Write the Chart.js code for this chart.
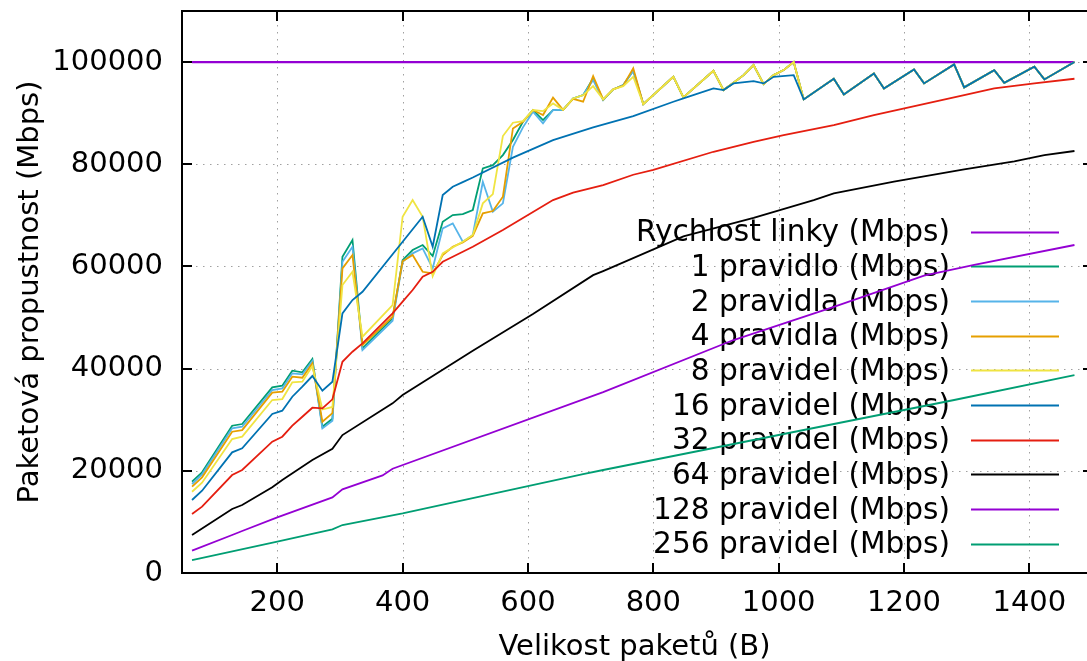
<!DOCTYPE html>
<html>
<head>
<meta charset="utf-8">
<script src="https://cdn.jsdelivr.net/npm/chart.js@4"></script>
<style>
  body { margin: 0; background: #fff; }
  canvas { display: block; }
</style>
</head>
<body>
<canvas id="chart" width="1087" height="661"></canvas>
<script>
// packet sizes (B) where the measured lines bend
let sizesZig = [64, 80, 128, 144, 192, 208, 224, 240, 256, 272, 288, 304, 320, 336, 384, 400, 416, 432, 448, 464,
  480, 496, 512, 528, 544, 560, 576, 592, 608, 624, 640, 656, 672, 688, 704, 720, 736, 752, 768, 784,
  832, 848, 896, 912, 928, 944, 960, 976, 992, 1008, 1024, 1040, 1088, 1104, 1152, 1168, 1216, 1232, 1280, 1296,
  1344, 1360, 1408, 1424, 1472];

let rule1 = [17870, 19700, 28830, 29160, 36330, 36660, 39600, 39270, 41880, 28630, 30200, 61900, 65170, 43970, 49840, 61250, 63210, 64190, 62040, 68750,
  70060, 70250, 71040, 79190, 79840, 81800, 84740, 88320, 90610, 88650, 90600, 90670, 92890, 93540, 96800, 92600, 94650, 95500, 98300, 91780,
  97130, 93090, 98300, 94520, 95960, 97450, 99410, 95700, 97450, 98430, 100000, 92700, 96740, 93680, 97780, 94850, 98570, 95830, 99550, 95050,
  98430, 95960, 99090, 96610, 100000];
let rule2 = [17420, 19310, 28310, 28630, 35810, 36140, 39080, 38880, 41490, 28310, 29800, 60920, 63860, 43640, 49380, 60920, 62560, 63540, 59620, 67450,
  68430, 64840, 66150, 76580, 70710, 72350, 83430, 87220, 90280, 88000, 90610, 90670, 92890, 93540, 96500, 92600, 94650, 95500, 98300, 91780,
  97130, 93090, 98300, 94520, 95960, 97450, 99410, 95700, 97450, 98430, 100000, 92700, 96740, 93680, 97780, 94850, 98570, 95830, 99550, 95050,
  98430, 95960, 99090, 96610, 100000];
let rule4 = [16890, 18730, 27650, 27980, 35290, 35480, 38420, 38230, 41030, 29610, 31300, 59620, 62230, 44620, 50160, 61000, 62230, 58960, 58640, 62230,
  63860, 64700, 66000, 70390, 70840, 73650, 87020, 88320, 90610, 89630, 93050, 90670, 92800, 92240, 97260, 92700, 94660, 95400, 98770, 91780,
  97130, 93090, 98300, 94520, 95960, 97450, 99410, 95700, 97450, 98430, 100000, 92700, 96740, 93680, 97780, 94850, 98570, 95830, 99550, 95050,
  98430, 95960, 99090, 96610, 100000];
let rule8 = [15910, 17680, 26220, 26680, 33860, 34050, 37310, 37440, 40510, 32000, 32500, 56360, 58960, 46250, 52450, 69730, 72990, 69730, 58120, 62560,
  63730, 64840, 66150, 72350, 74170, 85520, 88130, 88450, 90610, 90400, 91910, 90670, 92890, 93540, 95300, 92700, 94660, 95300, 97130, 91780,
  97130, 93090, 98300, 94520, 95960, 97450, 99410, 95700, 97450, 98430, 100000, 92700, 96740, 93680, 97780, 94850, 98570, 95830, 99550, 95050,
  98430, 95960, 99090, 96610, 100000];

let sizes16 = [64, 80, 128, 144, 192, 208, 224, 240, 256, 272, 288, 304, 320, 336, 432, 448, 464, 480, 496, 512,
  576, 640, 704, 768, 832, 848, 896, 912, 928, 960, 976, 992, 1024, 1040, 1088, 1104, 1152, 1168, 1216, 1232,
  1280, 1296, 1344, 1360, 1408, 1424, 1472];
let rule16 = [14290, 16110, 23620, 24400, 31120, 31770, 34500, 36460, 38550, 35680, 37440, 50810, 53425, 55050, 69730, 63860, 73970, 75600, 76500, 77400,
  81300, 84740, 87220, 89430, 92240, 92890, 94850, 94520, 95830, 96280, 95830, 97130, 97450, 92700, 96740, 93680, 97780, 94850, 98570, 95830,
  99550, 95050, 98430, 95960, 99090, 96610, 100000];

let sizes32 = [64, 80, 128, 144, 192, 208, 224, 240, 256, 272, 288, 304, 320, 336, 384, 400, 416, 432, 448, 464,
  480, 496, 512, 560, 640, 672, 720, 768, 800, 896, 960, 1008, 1088, 1152, 1296, 1344, 1408, 1472];
let rule32 = [11550, 12980, 19180, 20160, 25700, 26680, 28830, 30590, 32350, 32220, 33990, 41350, 43310, 44950, 50820, 53100, 55380, 57990, 58960, 60920,
  61900, 62880, 63860, 67120, 72990, 74430, 75930, 77950, 78900, 82450, 84400, 85710, 87670, 89630, 93540, 94850, 95830, 96740];

let sizes64 = [64, 128, 144, 192, 208, 256, 288, 304, 384, 400, 512, 608, 704, 720, 848, 960, 1056, 1088, 1184, 1296, 1376, 1424, 1472];
let rule64 = [7440, 12520, 13310, 16770, 18200, 22110, 24300, 27000, 33210, 34830, 43500, 50700, 58300, 59100, 65900, 69500, 73000, 74300, 76600, 79000, 80570, 81800, 82600];

let sizes128 = [64, 128, 144, 200, 288, 304, 368, 384, 720, 928, 1088, 1232, 1312, 1472];
let rule128 = [4370, 7440, 8220, 10900, 14810, 16380, 19100, 20400, 35400, 45600, 52100, 58200, 60300, 64200];

let sizes256 = [64, 200, 288, 304, 400, 688, 720, 1280, 1472];
let rule256 = [2540, 6130, 8550, 9390, 11680, 19370, 20160, 33860, 38750];

let sizesLink = [64, 1472];
let linkRate = [100000, 100000];

let xTicks = [200, 400, 600, 800, 1000, 1200, 1400];
let yTicks = [0, 20000, 40000, 60000, 80000, 100000];

let labels = ["Rychlost linky (Mbps)", "1 pravidlo (Mbps)", "2 pravidla (Mbps)", "4 pravidla (Mbps)", "8 pravidel (Mbps)",
  "16 pravidel (Mbps)", "32 pravidel (Mbps)", "64 pravidel (Mbps)", "128 pravidel (Mbps)", "256 pravidel (Mbps)"];
let colors = ["#9400d3", "#009e73", "#56b4e9", "#e69f00", "#f0e442", "#0072b2", "#e51e10", "#000000", "#9400d3", "#009e73"];

function pts(xs, ys) {
  return xs.map((x, i) => ({x: x, y: ys[i]}));
}

let series = [
  pts(sizesLink, linkRate), pts(sizesZig, rule1), pts(sizesZig, rule2), pts(sizesZig, rule4), pts(sizesZig, rule8),
  pts(sizes16, rule16), pts(sizes32, rule32), pts(sizes64, rule64), pts(sizes128, rule128), pts(sizes256, rule256)
];

const FONT = "DejaVu Sans";
const FS = 29;

// gnuplot like frame: dotted grid, inward ticks, key on the right
let framePlugin = {
  id: 'frame',
  beforeDatasetsDraw: (chart) => {
    const ctx = chart.ctx;
    const a = chart.chartArea;
    const xs = chart.scales.x, ys = chart.scales.y;
    ctx.save();
    ctx.strokeStyle = '#a0a0a0';
    ctx.lineWidth = 1;
    ctx.setLineDash([1.5, 5.5]);
    xTicks.forEach(v => {
      let p = Math.round(xs.getPixelForValue(v)) + 0.5;
      ctx.beginPath(); ctx.moveTo(p, a.top); ctx.lineTo(p, a.bottom); ctx.stroke();
    });
    yTicks.forEach(v => {
      if (v === 0) return;
      let p = Math.round(ys.getPixelForValue(v)) + 0.5;
      ctx.beginPath(); ctx.moveTo(a.left, p); ctx.lineTo(a.right, p); ctx.stroke();
    });
    ctx.setLineDash([]);
    // key
    ctx.font = '29.6px "' + FONT + '"';
    ctx.textAlign = 'right';
    ctx.textBaseline = 'middle';
    chart.data.datasets.forEach((ds, i) => {
      let y = 231.7 + i * 34.67;
      ctx.fillStyle = '#000';
      ctx.fillText(ds.label, 950, y + 2);
      ctx.strokeStyle = ds.borderColor;
      ctx.lineWidth = ds.borderWidth;
      ctx.beginPath(); ctx.moveTo(971, Math.round(y) + 0.5); ctx.lineTo(1059, Math.round(y) + 0.5); ctx.stroke();
    });
    ctx.restore();
  },
  afterDatasetsDraw: (chart) => {
    const ctx = chart.ctx;
    const a = chart.chartArea;
    const xs = chart.scales.x, ys = chart.scales.y;
    ctx.save();
    ctx.strokeStyle = '#000';
    ctx.lineWidth = 2;
    ctx.beginPath();
    ctx.moveTo(a.right + 5, a.top); ctx.lineTo(a.left, a.top); ctx.lineTo(a.left, a.bottom); ctx.lineTo(a.right + 5, a.bottom);
    ctx.stroke();
    xTicks.forEach(v => {
      let p = Math.round(xs.getPixelForValue(v));
      ctx.beginPath(); ctx.moveTo(p, a.bottom); ctx.lineTo(p, a.bottom - 10); ctx.stroke();
      ctx.beginPath(); ctx.moveTo(p, a.top); ctx.lineTo(p, a.top + 10); ctx.stroke();
    });
    yTicks.forEach(v => {
      let p = Math.round(ys.getPixelForValue(v));
      ctx.beginPath(); ctx.moveTo(a.left, p); ctx.lineTo(a.left + 10, p); ctx.stroke();
      ctx.beginPath(); ctx.moveTo(a.right - 4, p); ctx.lineTo(a.right + 5, p); ctx.stroke();
    });
    ctx.restore();
  }
};

let myChart = new Chart(document.getElementById('chart').getContext('2d'), {
  type: 'scatter',
  data: {
    datasets: series.map((d, i) => ({
      label: labels[i],
      data: d,
      showLine: true,
      borderColor: colors[i],
      backgroundColor: colors[i],
      borderWidth: i === 0 ? 2.2 : 1.8,
      pointRadius: 0,
      tension: 0,
      order: 20 - i
    }))
  },
  options: {
    responsive: false,
    animation: false,
    devicePixelRatio: 1,
    layout: { padding: { top: 11, right: 0, left: 0, bottom: 0 } },
    scales: {
      x: {
        type: 'linear',
        min: 48,
        max: 1492,
        grid: { display: false, drawTicks: false },
        border: { display: false },
        afterBuildTicks: s => { s.ticks = xTicks.map(v => ({value: v})); },
        afterFit: s => { s.height = 88; s.paddingLeft = 0; s.paddingRight = 0; },
        ticks: {
          padding: 13,
          color: '#000',
          font: { family: FONT, size: FS },
          callback: v => String(v)
        },
        title: {
          display: true,
          text: 'Velikost paketů (B)',
          color: '#000',
          font: { family: FONT, size: FS, lineHeight: 0.92 },
          padding: { top: 0, bottom: 0 }
        }
      },
      y: {
        min: 0,
        max: 110000,
        grid: { display: false, drawTicks: false },
        border: { display: false },
        afterBuildTicks: s => { s.ticks = yTicks.map(v => ({value: v})); },
        afterFit: s => { s.width = 182; s.paddingTop = 0; s.paddingBottom = 0; },
        ticks: {
          padding: 19,
          color: '#000',
          font: { family: FONT, size: FS },
          callback: v => String(v)
        },
        title: {
          display: true,
          text: 'Paketová propustnost (Mbps)',
          color: '#000',
          font: { family: FONT, size: FS },
          padding: { top: 13, bottom: 0 }
        }
      }
    },
    plugins: {
      legend: { display: false },
      tooltip: { enabled: false }
    }
  },
  plugins: [framePlugin]
});
</script>
</body>
</html>
